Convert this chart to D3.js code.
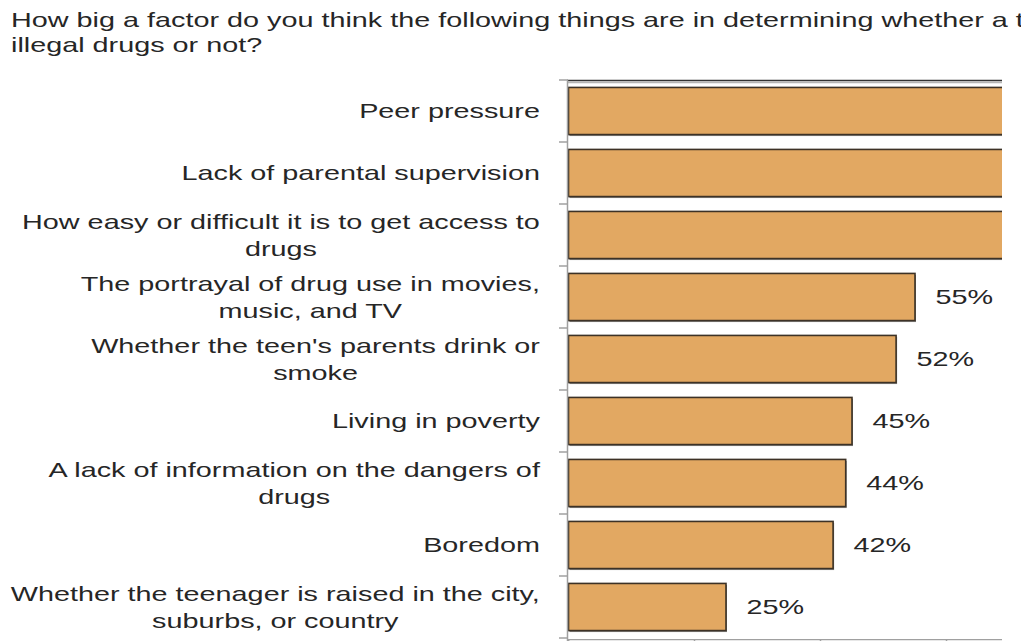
<!DOCTYPE html>
<html>
<head>
<meta charset="utf-8">
<script src="https://cdn.jsdelivr.net/npm/d3@7"></script>
<style>
  body { margin: 0; background: #fff; }
  svg { display: block; }
  text { font-family: "Liberation Sans", Arial, sans-serif; font-size: 20px; fill: #262626; }
</style>
</head>
<body>
<svg id="chart" width="1021" height="641"></svg>
<script>
const titleLines = [
  'How big a factor do you think the following things are in determining whether a teen uses',
  'illegal drugs or not?'
]

// each category is a list of its label lines
const categories = [
  ['Peer pressure'],
  ['Lack of parental supervision'],
  ['How easy or difficult it is to get access to', 'drugs'],
  ['The portrayal of drug use in movies,', 'music, and TV'],
  ["Whether the teen's parents drink or", 'smoke'],
  ['Living in poverty'],
  ['A lack of information on the dangers of', 'drugs'],
  ['Boredom'],
  ['Whether the teenager is raised in the city,', 'suburbs, or country']
]

// first three run past the cropped edge, so they are estimates
const values = [80, 76, 72, 55, 52, 45, 44, 42, 25]

const xTicks = [0, 20, 40, 60, 80, 100]

const stretch = 1.44 // text in the picture is drawn wide
const plotLeft = 568
const plotRight = 1002
const plotTop = 80
const plotBottom = 638

const svg = d3.select('#chart')

const keys = categories.map((d, i) => i)

// x scale: 0..100 percent
const x = d3.scaleLinear()
  .domain([0, 100])
  .range([plotLeft, plotLeft + 630])

// y scale for bars
const y = d3.scaleBand()
  .domain(keys)
  .range([plotTop, plotBottom])
  .paddingInner(0.24)
  .paddingOuter(0.12)

// rows without padding, for the tick marks
const rows = d3.scaleBand()
  .domain(keys)
  .range([plotTop, plotBottom])

// title
svg.append('g')
  .selectAll('text')
  .data(titleLines)
  .enter().append('text')
  .attr('transform', (d, i) => `translate(11, ${27 + i * 25}) scale(${stretch}, 1)`)
  .text(d => d)

// clip the plot at the cropped edge
svg.append('clipPath').attr('id', 'plot')
  .append('rect')
  .attr('x', plotLeft - 10)
  .attr('y', 0)
  .attr('width', plotRight - plotLeft + 10)
  .attr('height', 641)

const plot = svg.append('g').attr('clip-path', 'url(#plot)')

// top frame line with its grey shadow
plot.append('line')
  .attr('x1', plotLeft - 1).attr('x2', plotRight)
  .attr('y1', plotTop + 2.5).attr('y2', plotTop + 2.5)
  .attr('stroke', '#b5b5b5').attr('stroke-width', 1.5)
plot.append('line')
  .attr('x1', plotLeft - 1).attr('x2', plotRight)
  .attr('y1', plotTop + 0.5).attr('y2', plotTop + 0.5)
  .attr('stroke', '#333').attr('stroke-width', 1.5)

// bars: a dark shadow rect then the orange bar
const bar = plot.selectAll('g.bar')
  .data(values)
  .enter().append('g')
  .attr('class', 'bar')

bar.append('rect')
  .attr('x', plotLeft + 1.5)
  .attr('y', (d, i) => y(i) + 1.5)
  .attr('width', d => x(d) - plotLeft)
  .attr('height', y.bandwidth())
  .attr('fill', '#3a3a3a')
  .attr('opacity', 0.6)

bar.append('rect')
  .attr('x', plotLeft + 0.5)
  .attr('y', (d, i) => y(i))
  .attr('width', d => x(d) - plotLeft)
  .attr('height', y.bandwidth())
  .attr('fill', '#e2a862')
  .attr('stroke', '#3d3226')
  .attr('stroke-width', 1.6)

// value labels, only where they fall inside the cropped picture
bar.filter(d => x(d) + 21 < plotRight)
  .append('text')
  .attr('transform', (d, i) => `translate(${x(d) + 21}, ${y(values.indexOf(d)) + y.bandwidth() / 2 + 7}) scale(${stretch}, 1)`)
  .text(d => d + '%')

// bottom axis
const xAxis = svg.append('g')
  .attr('transform', `translate(0, ${plotBottom + 1})`)
  .attr('clip-path', 'url(#plot)')
  .call(d3.axisBottom(x).tickValues(xTicks).tickSize(8).tickFormat(''))
xAxis.selectAll('path, line').attr('stroke', '#a0a0a0').attr('stroke-width', 1.5)

// left axis line and tick marks between rows
const yAxis = svg.append('g')
yAxis.append('line')
  .attr('x1', plotLeft - 0.5).attr('x2', plotLeft - 0.5)
  .attr('y1', plotTop).attr('y2', 641)
  .attr('stroke', '#a0a0a0').attr('stroke-width', 1.5)
yAxis.selectAll('line.tick')
  .data(keys.map(k => rows(k)).concat([plotBottom]))
  .enter().append('line')
  .attr('class', 'tick')
  .attr('x1', plotLeft - 9).attr('x2', plotLeft)
  .attr('y1', d => d).attr('y2', d => d)
  .attr('stroke', '#a0a0a0').attr('stroke-width', 1.5)

// category labels, lines centred on each other, block right-aligned
const labelRight = 540
const lineHeight = 27
categories.forEach((lines, i) => {
  const g = svg.append('g')
  const texts = g.selectAll('text')
    .data(lines)
    .enter().append('text')
    .attr('text-anchor', 'middle')
    .text(d => d)
  let w = 0
  texts.each(function () { w = Math.max(w, this.getComputedTextLength()) })
  const cx = labelRight - (w * stretch) / 2
  const cy = rows(i) + rows.bandwidth() / 2
  const first = cy + 7 - (lines.length - 1) * lineHeight / 2
  texts.attr('transform', (d, j) => `translate(${cx}, ${first + j * lineHeight}) scale(${stretch}, 1)`)
})
</script>
</body>
</html>
